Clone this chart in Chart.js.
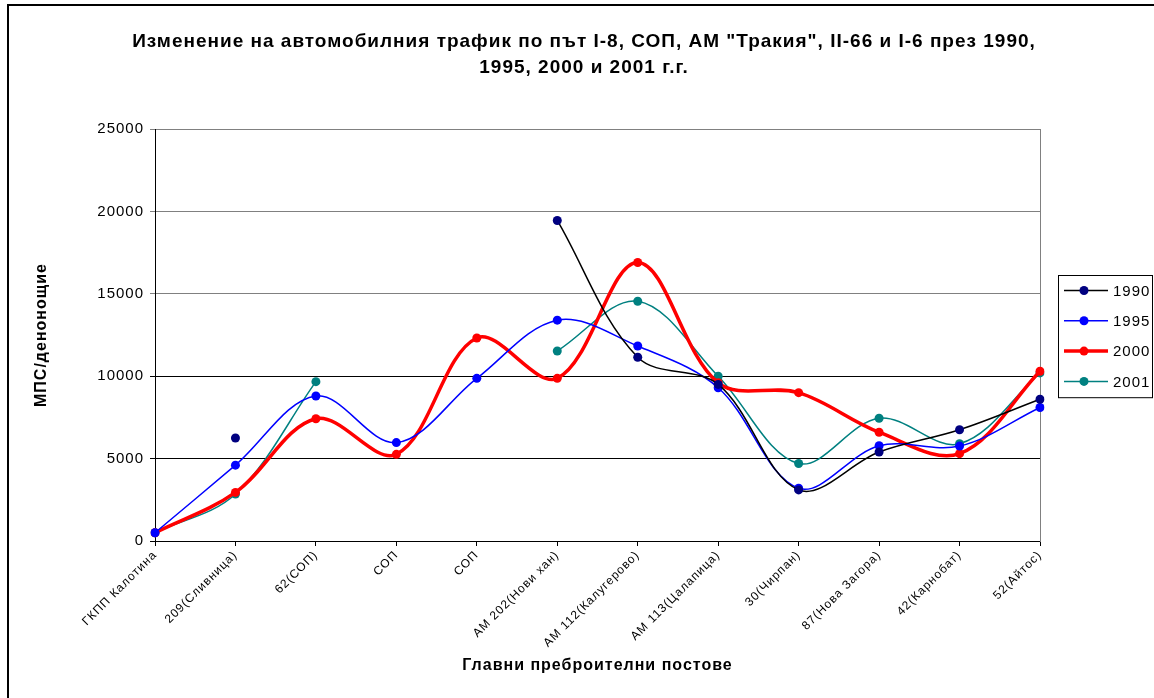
<!DOCTYPE html>
<html>
<head>
<meta charset="utf-8">
<script src="https://cdn.jsdelivr.net/npm/chart.js@4"></script>
<style>
  html, body { margin: 0; padding: 0; background: #fff; }
  canvas { display: block; }
</style>
</head>
<body>
<canvas id="traffic-chart" width="1154" height="698"></canvas>
<script>
const stations = [
  "ГКПП Калотина", "209(Сливница)", "62(СОП)", "СОП", "СОП", "АМ 202(Нови хан)",
  "АМ 112(Калугерово)", "АМ 113(Цалапица)", "30(Чирпан)", "87(Нова Загора)",
  "42(Карнобат)", "52(Айтос)"
];
const years = ["1990", "1995", "2000", "2001"];
const traffic1990 = [null, 6250, null, null, null, 19450, 11150, 9500, 3100, 5400, 6750, 8600];
const traffic1995 = [500, 4600, 8800, 5970, 9870, 13400, 11830, 9300, 3200, 5780, 5760, 8100];
const traffic2000 = [500, 2950, 7420, 5260, 12320, 9870, 16900, 9600, 9000, 6600, 5300, 10300];
const traffic2001 = [500, 2850, 9670, null, null, 11530, 14550, 10000, 4700, 7450, 5900, 10200];
const yTicks = [0, 5000, 10000, 15000, 20000, 25000];

const seriesStyle = [
  { line: "#000000", point: "#000080", width: 1.5 },
  { line: "#0000FF", point: "#0000FF", width: 1.5 },
  { line: "#FF0000", point: "#FF0000", width: 3.5 },
  { line: "#008080", point: "#008080", width: 1.5 }
];
const allSeries = [traffic1990, traffic1995, traffic2000, traffic2001];

const FONT = "'Liberation Sans', Arial, sans-serif";

// the original's text is set a bit loose; apply the same tracking to every label
const tracking = {
  id: "tracking",
  beforeUpdate(chart) { chart.ctx.letterSpacing = "1px"; },
  beforeDraw(chart) { chart.ctx.letterSpacing = "1px"; }
};

// white page + the frame line on the left and top edges
const pageFrame = {
  id: "pageFrame",
  beforeDraw(chart) {
    const c = chart.ctx;
    c.save();
    c.fillStyle = "#fff";
    c.fillRect(0, 0, chart.width, chart.height);
    c.strokeStyle = "#000";
    c.lineWidth = 2;
    c.beginPath();
    c.moveTo(8, chart.height);
    c.lineTo(8, 5);
    c.lineTo(chart.width, 5);
    c.stroke();
    c.restore();
  }
};

// boxed legend with line + marker samples, like the original
const boxLegend = {
  id: "boxLegend",
  afterDraw(chart) {
    const c = chart.ctx;
    const area = chart.chartArea;
    const left = area.right + 18;
    const top = 275;
    const rowH = 30.3;
    c.save();
    c.strokeStyle = "#000";
    c.lineWidth = 1;
    c.strokeRect(left + 0.5, top + 0.5, chart.width - left - 2, 4 * rowH + 1);
    c.font = "15px " + FONT;
    c.textBaseline = "middle";
    chart.data.datasets.forEach((ds, i) => {
      const y = top + 15.5 + i * rowH;
      c.strokeStyle = ds.borderColor;
      c.lineWidth = ds.borderWidth;
      c.beginPath();
      c.moveTo(left + 6, y);
      c.lineTo(left + 50, y);
      c.stroke();
      c.fillStyle = ds.pointBackgroundColor;
      c.beginPath();
      c.arc(left + 26, y, 4.5, 0, Math.PI * 2);
      c.fill();
      c.fillStyle = "#000";
      c.fillText(ds.label, left + 55, y + 1);
    });
    c.restore();
  }
};

const datasets = years.map((year, i) => ({
  label: year,
  data: allSeries[i],
  borderColor: seriesStyle[i].line,
  backgroundColor: seriesStyle[i].point,
  pointBackgroundColor: seriesStyle[i].point,
  pointBorderColor: seriesStyle[i].point,
  borderWidth: seriesStyle[i].width,
  pointRadius: 4.5,
  pointBorderWidth: 0,
  tension: 0.35,
  spanGaps: false,
  fill: false
}));

new Chart(document.getElementById("traffic-chart"), {
  type: "line",
  data: { labels: stations, datasets: datasets },
  options: {
    responsive: false,
    animation: false,
    layout: { padding: { left: 14, right: 0, top: 0, bottom: 0 } },
    plugins: {
      legend: { display: false },
      tooltip: { enabled: false },
      title: {
        display: true,
        text: [
          "Изменение на автомобилния трафик по път I-8, СОП, АМ \"Тракия\", II-66 и I-6 през 1990,",
          "1995, 2000 и 2001 г.г."
        ],
        color: "#000",
        font: { family: FONT, size: 19, weight: "bold", lineHeight: 26 / 19 },
        padding: { top: 29, bottom: 48 }
      }
    },
    scales: {
      x: {
        type: "category",
        offset: false,
        afterFit: (s) => { s.height = 157; },
        grid: { display: true, drawOnChartArea: false, drawTicks: true, tickLength: 5, color: "#000" },
        border: { display: true, color: "#000", width: 1 },
        ticks: {
          autoSkip: false,
          maxRotation: 45,
          minRotation: 45,
          color: "#000",
          padding: 2,
          font: { family: FONT, size: 12 }
        },
        title: {
          display: true,
          text: "Главни преброителни постове",
          color: "#000",
          font: { family: FONT, size: 16, weight: "bold" },
          padding: { top: 0, bottom: 23 }
        }
      },
      y: {
        min: 0,
        max: 25000,
        afterFit: (s) => { s.width = 141; },
        afterBuildTicks: (s) => { s.ticks = yTicks.map(v => ({ value: v })); },
        grid: {
          color: (ctx) => (ctx.tick && ctx.tick.value >= 15000 ? "#808080" : "#000"),
          tickLength: 5,
          lineWidth: 1
        },
        border: { display: true, color: "#000", width: 1 },
        ticks: {
          color: "#000",
          padding: 6,
          font: { family: FONT, size: 15 },
          callback: (v) => String(v)
        },
        title: {
          display: true,
          text: "МПС/денонощие",
          color: "#000",
          font: { family: FONT, size: 16, weight: "bold" },
          padding: { top: 18, bottom: 0 }
        }
      },
      yRight: {
        position: "right",
        min: 0,
        max: 25000,
        afterFit: (s) => { s.width = 114; },
        grid: { display: false },
        ticks: { display: false },
        border: { display: true, color: "#808080", width: 1 }
      }
    }
  },
  plugins: [tracking, pageFrame, boxLegend]
});
</script>
</body>
</html>
